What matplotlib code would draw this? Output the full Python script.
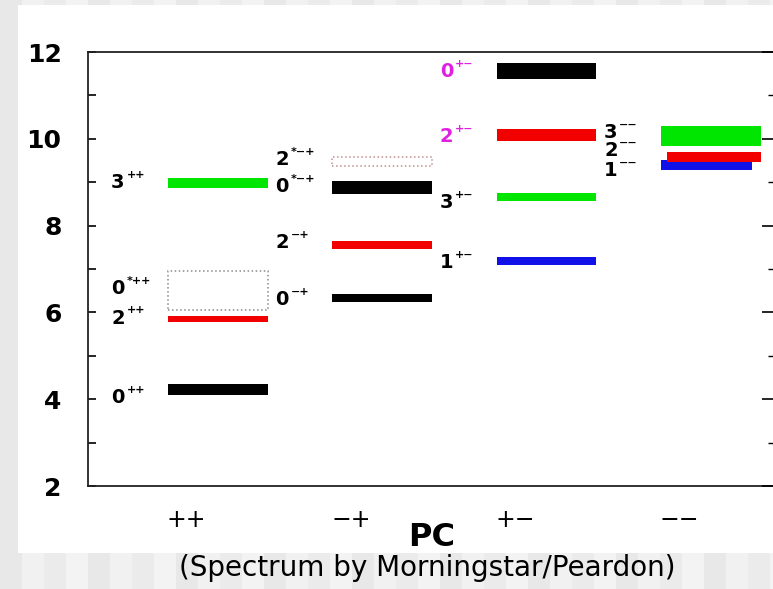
import numpy as np
import matplotlib.pyplot as plt
from matplotlib.patches import Rectangle

# Kolumny PC i stany glueballi (masa, błąd)
pc_labels = ['++', '\u2212+', '+\u2212', '\u2212\u2212']

state_col = [0, 0, 0, 0, 1, 1, 1, 1, 2, 2, 2, 2, 3, 3, 3]
state_j = ['0', '2', '0', '3', '0', '2', '0', '2', '1', '3', '2', '0', '1', '2', '3']
state_excited = [0, 0, 1, 0, 0, 0, 1, 1, 0, 0, 0, 0, 0, 0, 0]
state_tentative = [0, 0, 1, 0, 0, 0, 0, 1, 0, 0, 0, 0, 0, 0, 0]
state_exotic = [0, 0, 0, 0, 0, 0, 0, 0, 0, 0, 1, 1, 0, 0, 0]
state_mass = [4.22, 5.85, 6.51, 8.98, 6.33, 7.55, 8.88, 9.485,
              7.18, 8.66, 10.09, 11.56, 9.39, 9.58, 10.06]
state_err = [0.12, 0.07, 0.45, 0.11, 0.085, 0.09, 0.15, 0.105,
             0.09, 0.10, 0.13, 0.18, 0.115, 0.115, 0.23]

# położenie etykiet (ręcznie, jak w oryginale)
label_y = [4.03, 5.87, 6.54, 9.0, 6.29, 7.6, 8.89, 9.53,
           7.14, 8.54, 10.06, 11.54, 9.26, 9.72, 10.14]
bar_left = [-0.304] * 15
bar_right = [0.304] * 15
bar_left[13] = -0.265
bar_right[12] = 0.25

j_colors = {'0': 'black', '1': '#1010e8', '2': '#f20000', '3': '#00e600'}
box_colors = {'0': '#8a8a8a', '2': '#c09090'}
magenta = '#e020e0'

fig = plt.figure(figsize=(7.73, 5.89), dpi=100)
fig.patch.set_facecolor('#ededed')

# tło slajdu: delikatne pasy
for i, x0 in enumerate(range(0, 773, 22)):
    shade = ['#e8e8e8', '#f1f1f1', '#ebebeb', '#f3f3f3'][i % 4]
    fig.patches.append(Rectangle((x0 / 773, 0), 22 / 773, 1, transform=fig.transFigure,
                                 facecolor=shade, edgecolor='none', zorder=-2))
fig.patches.append(Rectangle((18 / 773, 1 - 553 / 589), 1, 548 / 589,
                             transform=fig.transFigure, facecolor='white',
                             edgecolor='none', zorder=-1))

ax = fig.add_axes([88 / 773, 1 - 486 / 589, (779 - 88) / 773, (486 - 52) / 589])
ax.set_facecolor('white')
ax.set_xlim(-0.791, 3.415)
ax.set_ylim(2, 12)

for i in range(len(state_mass)):
    c = state_col[i]
    lo = state_mass[i] - state_err[i]
    x0 = c + bar_left[i]
    w = bar_right[i] - bar_left[i]
    if state_tentative[i]:
        ax.add_patch(Rectangle((x0, lo), w, 2 * state_err[i], fill=False,
                               edgecolor=box_colors[state_j[i]], linestyle=':', lw=1.1))
    else:
        ax.add_patch(Rectangle((x0, lo), w, 2 * state_err[i],
                               facecolor=j_colors[state_j[i]], edgecolor='none'))

    tcol = magenta if state_exotic[i] else 'black'
    lx = c - 0.65
    ax.text(lx, label_y[i], state_j[i], fontsize=14, fontweight='bold',
            color=tcol, ha='left', va='center', family='DejaVu Sans')
    sup = ('*' if state_excited[i] else '') + pc_labels[c]
    ax.annotate(sup, xy=(lx, label_y[i]), xytext=(11, 5.5), textcoords='offset points',
                fontsize=8, fontweight='bold', color=tcol, ha='left', va='center',
                family='DejaVu Sans')

for s in ax.spines.values():
    s.set_linewidth(1.3)
    s.set_color('#222222')

ax.set_yticks(np.arange(2, 13, 2))
ax.set_yticks(np.arange(3, 12, 2), minor=True)
ax.set_yticklabels([str(v) for v in range(2, 13, 2)], fontsize=18,
                   fontweight='bold', family='DejaVu Sans')
ax.tick_params(axis='y', which='both', direction='in', length=6, width=1.2,
               pad=19, left=True, right=False)

ax.set_xticks(np.arange(4) - 0.19)
ax.set_xticklabels(pc_labels, fontsize=17, family='DejaVu Sans')
ax.tick_params(axis='x', length=0, pad=16)

ax2 = ax.twinx()
ax2.set_ylim(2, 12)
ax2.set_yticks(np.arange(2, 13, 2))
ax2.set_yticks(np.arange(3, 12, 2), minor=True)
ax2.tick_params(axis='y', which='major', direction='in', length=12, width=1.2, labelright=False)
ax2.tick_params(axis='y', which='minor', direction='in', length=8, width=1.0, labelright=False)
for s in ax2.spines.values():
    s.set_visible(False)

fig.text(432 / 773, 1 - 537 / 589, 'PC', ha='center', va='center',
         fontsize=23, fontweight='bold', family='DejaVu Sans')
fig.text(427 / 773, 1 - 568 / 589, '(Spectrum by Morningstar/Peardon)',
         ha='center', va='center', fontsize=20, family='DejaVu Sans')

fig.savefig('out.png', dpi=100, facecolor=fig.get_facecolor())
